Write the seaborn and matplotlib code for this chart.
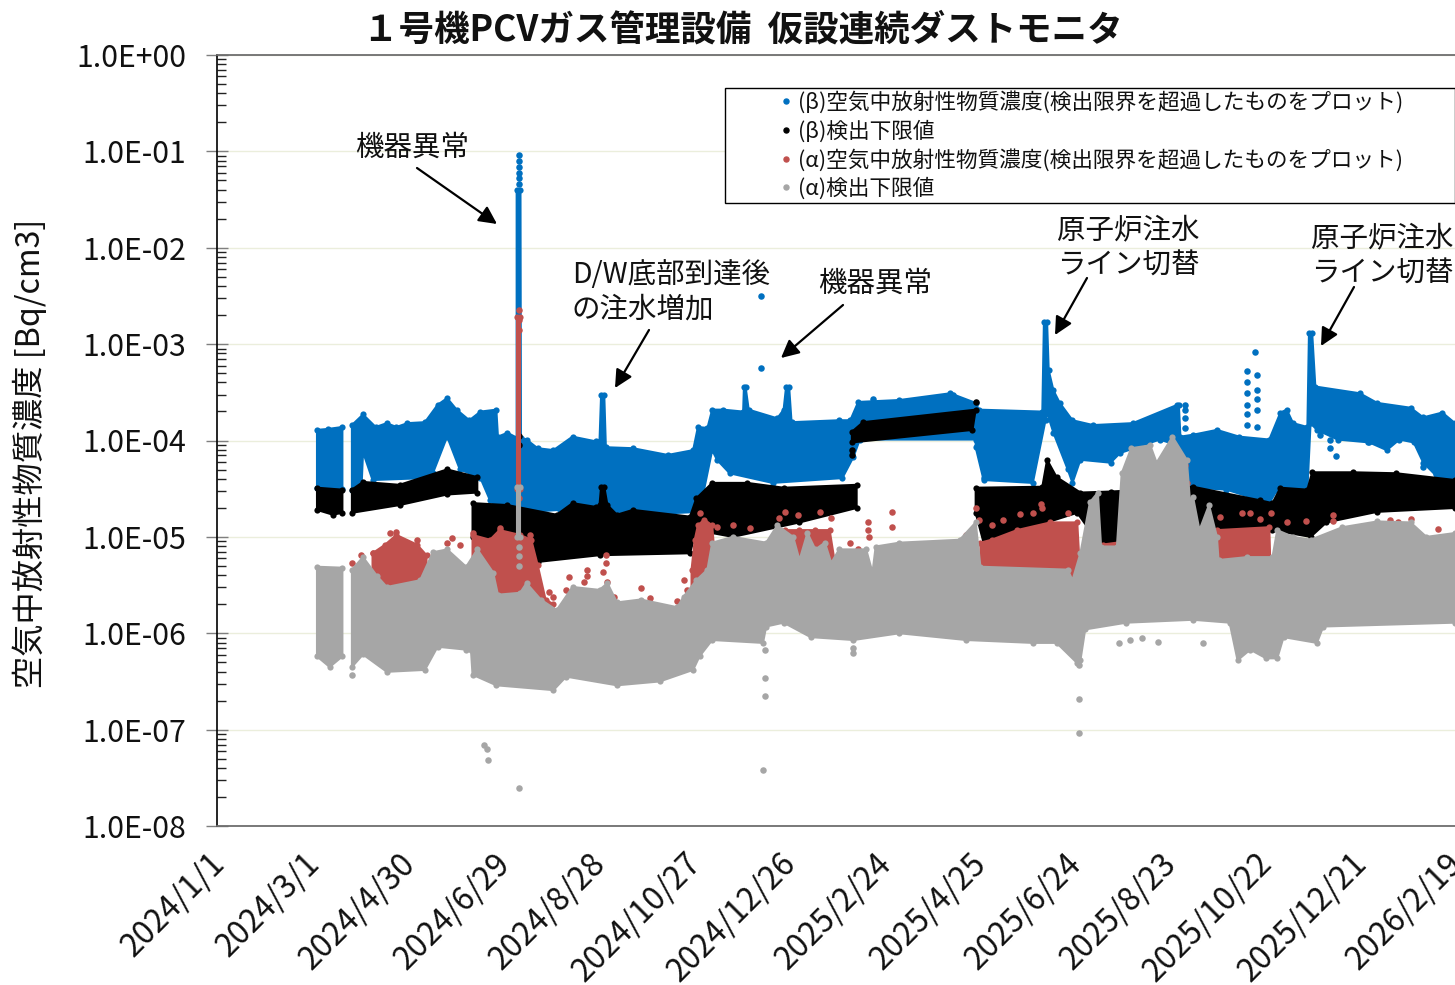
import numpy as np
import pandas as pd
import matplotlib
matplotlib.use("Agg")
import matplotlib.pyplot as plt
from matplotlib.lines import Line2D
from matplotlib.legend_handler import HandlerLine2D
from matplotlib.transforms import ScaledTranslation
import seaborn as sns

# x: days since 2024/1/1, y: concentration as -log10(Bq/cm3)
tick_labels = ["2024/1/1","2024/3/1","2024/4/30","2024/6/29","2024/8/28","2024/10/27","2024/12/26",
               "2025/2/24","2025/4/25","2025/6/24","2025/8/23","2025/10/22","2025/12/21","2026/2/19"]
tick_days = [0,60,120,180,240,300,360,420,480,540,600,660,720,780]

# ---- beta concentration envelope
beta1_top_d = [63,70,79]; beta1_top = [3.89,3.88,3.86]
beta1_bot_d = [63,79];    beta1_bot = [4.49,4.50]
beta2_top_d = [85,92,100,107,113,120,131,139,145,151,159,166,176,177,183,188.8,188.8,191.2,191.5,195,202,212,224,239,241,242,244,245,262,284,300,303,309,312,319,331.5,332,333,335,353,357,358.5,360.5,362,392,399,404,430,462,478,480,520,521,523,524,527,531,539,552,577,605,606,607,615,630,644,663,670,674,678,687,688,690,692,720,731,752,760,772,780]
beta2_top   = [3.84,3.73,3.86,3.82,3.86,3.82,3.81,3.63,3.56,3.68,3.79,3.70,3.68,3.96,3.92,3.97,1.40,1.40,3.97,3.99,4.08,4.10,3.96,4.01,4.01,3.53,3.53,4.07,4.08,4.15,4.10,3.86,3.87,3.68,3.68,3.70,3.44,3.44,3.68,3.77,3.68,3.45,3.45,3.81,3.79,3.79,3.60,3.58,3.51,3.61,3.68,3.70,2.77,2.77,3.27,3.48,3.61,3.79,3.84,3.82,3.63,3.63,3.96,3.94,3.89,3.96,3.99,3.71,3.68,3.82,3.86,2.88,2.88,3.44,3.51,3.61,3.66,3.76,3.71,3.82]
beta2_bot_d = [85,91,92,98,131,136,145,153,166,172,178,197,216,266,304,312,315,323,350,394,401,405,478,478,483,514,522,523,527,536,539,544,563,569,594,605,607,636,663,668,687,689,693,706,726,737,745,754,760,769,780]
beta2_bot   = [4.51,4.51,4.12,4.41,4.39,4.34,3.96,4.30,4.39,4.62,4.72,4.74,4.72,4.77,4.74,4.10,4.20,4.34,4.44,4.39,4.17,3.99,3.99,4.07,4.41,4.44,3.79,3.71,3.92,4.30,4.44,4.20,4.23,4.13,3.99,4.05,4.48,4.51,4.65,4.51,4.51,3.82,3.89,3.99,4.02,4.10,3.99,4.02,4.23,4.38,4.41]
beta_pts_d = [190,190,190,190,190,190,343,343,654,649,649,655,655,649,655,649,649,649,655,655,695,695,701,706,701,705,725,717,760,768,413,464,350,483,495,610,610,610,610]
beta_pts   = [1.04,1.10,1.16,1.22,1.28,1.34,2.50,3.25,3.08,3.28,3.39,3.32,3.48,3.51,3.57,3.63,3.73,3.84,3.68,3.86,3.89,3.94,3.99,3.94,4.08,4.16,4.02,3.97,4.27,4.35,3.57,3.53,4.39,4.39,4.39,3.68,3.77,3.87,3.63]

# ---- beta detection limit envelope
bl1_top_d = [63,79];     bl1_top = [4.49,4.51]
bl1_bot_d = [63,73,79];  bl1_bot = [4.72,4.77,4.75]
bl2_top_d = [85,92,115,145,164]; bl2_top = [4.51,4.43,4.46,4.30,4.38]
bl2_bot_d = [85,115,145,164];    bl2_bot = [4.75,4.67,4.56,4.54]
bl3_top_d = [161,183,214,224,239,241,242,244,246,252,262,298,302,312,334,357,403]
bl3_top   = [4.65,4.67,4.77,4.65,4.69,4.67,4.48,4.48,4.67,4.77,4.72,4.79,4.60,4.44,4.44,4.49,4.46]
bl3_bot_d = [161,197,202,241,298,302,325,367,403]
bl3_bot   = [5.00,5.06,5.26,5.19,5.17,4.93,5.00,4.85,4.70]
bl4_top_d = [400,407,478]; bl4_top = [3.91,3.81,3.68]
bl4_bot_d = [400,476];     bl4_bot = [4.02,3.89]
bl5_top_d = [478,520,523,529,544,563,615,657,665,670,687,690,716,743,780]
bl5_top   = [4.49,4.48,4.20,4.38,4.54,4.53,4.48,4.62,4.65,4.49,4.51,4.33,4.33,4.34,4.41]
bl5_bot_d = [478,483,498,523,542,557,607,665,689,699,731,780]
bl5_bot   = [4.75,5.06,4.96,4.85,4.75,5.10,4.93,4.93,5.00,4.85,4.74,4.70]
bl_pts_d = [400,400,478,190,190]; bl_pts = [4.15,4.10,3.60,3.95,4.05]

# ---- alpha concentration envelope
aA_top_d = [98,106,113,126,132]; aA_top = [5.17,5.08,4.98,5.08,5.19]
aA_bot_d = [98,132];             aA_bot = [5.50,5.50]
aB_top_d = [161,172,178,191,198,202,207,212]; aB_top = [4.98,5.03,4.93,4.98,5.03,5.29,5.65,5.70]
aB_bot_d = [161,212];            aB_bot = [5.50,5.80]
aC_top_d = [299,301,303,307,312]; aC_top = [5.34,5.03,4.88,4.82,4.88]
aC_bot_d = [299,315];            aC_bot = [5.80,5.50]
aD_top_d = [350,358,367,377,386,389]; aD_top = [5.08,4.93,4.93,4.93,4.93,5.24]
aD_bot_d = [350,389];            aD_bot = [5.39,5.45]
aE_top_d = [481,488,504,525,542,544]; aE_top = [5.06,5.03,4.93,4.85,4.85,5.45]
aE_bot_d = [481,542];            aE_bot = [5.30,5.50]
aF_top_d = [558,603,630,663,664]; aF_top = [5.08,4.98,4.93,4.90,5.50]
aF_bot_d = [558,664];            aF_bot = [5.50,5.50]
aS_top_d = [189,191]; aS_top = [2.72,2.72]
aS_bot_d = [189,191]; aS_bot = [4.50,4.50]
alpha_pts_d = [190,190,190,190,85,91,98,109,113,126,145,148,153,161,178,197,209,212,220,222,233,233,231,243,245,245,246,250,267,273,290,294,296,304,315,325,336,354,358,366,380,387,410,410,411,425,425,399,404,472,478,480,488,495,506,514,519,520,536,600,610,611,632,646,651,657,664,674,686,703,703,721,739,744,752,769]
alpha_pts   = [2.65,2.75,2.85,4.60,5.27,5.19,5.17,4.96,4.95,5.03,5.06,5.01,5.08,4.96,4.91,4.98,5.57,5.62,5.55,5.42,5.34,5.41,5.47,5.36,5.19,5.27,5.47,5.62,5.53,5.63,5.67,5.45,5.55,4.75,4.90,4.88,4.91,4.80,4.74,4.77,4.74,4.80,4.85,4.93,5.00,4.74,4.90,5.06,5.13,4.98,4.70,4.82,4.88,4.83,4.76,4.75,4.66,4.70,4.75,4.13,4.25,4.44,4.79,4.75,4.75,4.81,4.75,4.85,4.84,4.77,4.84,4.90,4.83,4.85,4.81,4.92]

# ---- alpha detection limit envelope
al1_top_d = [63,79];    al1_top = [5.31,5.32]
al1_bot_d = [63,71,79]; al1_bot = [6.24,6.35,6.24]
al2_top_d = [85,92,101,107,128,136,145,157,164,174,177,191,195,204,214,224,241,246,252,267,290,294,302,309,312,325,346,353,363,367,372,377,383,387,392,409,413,415,430,468,478,481,536,539,544,550,555,557,567,570,576,588,592,602,611,613,615,619,625,630,631,649,665,668,678,689,709,731,752,762,780]
al2_top   = [5.34,5.21,5.41,5.52,5.45,5.16,5.13,5.31,5.13,5.37,5.60,5.58,5.48,5.65,5.76,5.52,5.55,5.48,5.68,5.65,5.73,5.62,5.45,5.34,5.06,5.00,5.06,4.88,5.00,5.24,4.96,5.13,5.06,5.27,5.13,5.13,5.37,5.10,5.06,5.03,4.85,5.31,5.34,5.45,5.17,4.64,4.54,5.10,5.10,4.34,4.08,4.05,4.23,3.96,4.20,4.62,4.59,4.93,4.67,5.00,5.24,5.21,5.21,4.93,5.00,5.03,4.90,4.84,4.85,5.00,4.96]
al2_bot_d = [85,92,107,131,139,157,160,161,176,212,220,252,279,300,304,312,344,346,357,374,401,430,472,514,529,542,544,547,573,615,638,643,651,661,668,672,693,697,780]
al2_bot   = [6.35,6.22,6.40,6.38,6.14,6.17,6.17,6.43,6.54,6.59,6.45,6.54,6.50,6.38,6.24,6.07,6.10,5.93,5.89,6.04,6.07,6.00,6.07,6.10,6.10,6.31,6.28,5.96,5.89,5.86,5.89,6.28,6.17,6.26,6.26,6.04,6.10,5.93,5.89]
alS_top_d = [189,191]; alS_top = [4.48,4.48]
alS_bot_d = [189,191]; alS_bot = [5.00,5.00]
al_pts_d = [190,190,190,168,170,171,190,345,345,345,344,401,401,543,543,543,568,575,583,593,621,85]
al_pts   = [5.10,5.20,5.30,7.16,7.20,7.32,7.61,6.17,6.46,6.65,7.42,6.15,6.21,6.33,6.68,7.04,6.10,6.07,6.05,6.09,6.10,6.43]

names = ["(β)空気中放射性物質濃度(検出限界を超過したものをプロット)", "(β)検出下限値",
         "(α)空気中放射性物質濃度(検出限界を超過したものをプロット)", "(α)検出下限値"]
BLUE, BLACK, RED, GREY = "#0070C0", "#000000", "#C0504D", "#A6A6A6"

sns.set_theme(style="white")
plt.rcParams["font.family"] = ["Noto Sans CJK JP", "DejaVu Sans"]

W, H = 1455, 985
L, R, T, B = 217, 1455, 55, 826
fig = plt.figure(figsize=(W/100, H/100), dpi=100)
ax = fig.add_axes([L/W, 1-B/H, (R-L)/W, (B-T)/H])
ax.set_yscale("log")
ax.set_xlim(0, 780)
ax.set_ylim(1e-8, 1)

def val(a):
    return 10.0 ** (-np.asarray(a, dtype=float))

def band(top_d, top, bot_d, bot, color, z):
    xs = np.r_[top_d, bot_d[::-1]]
    ys = np.r_[val(top), val(bot[::-1])]
    ax.fill(xs, ys, color=color, lw=1.5, zorder=z, joinstyle="round")
    sns.scatterplot(x=np.r_[top_d, bot_d], y=np.r_[val(top), val(bot)], color=color,
                    s=20, linewidth=0, ax=ax, zorder=z, legend=False)

def dots(d, v, color, z):
    sns.scatterplot(x=d, y=val(v), color=color, s=22, linewidth=0, ax=ax, zorder=z, legend=False)

band(beta1_top_d, beta1_top, beta1_bot_d, beta1_bot, BLUE, 3)
band(beta2_top_d, beta2_top, beta2_bot_d, beta2_bot, BLUE, 3)
dots(beta_pts_d, beta_pts, BLUE, 3)
for s in [(bl1_top_d,bl1_top,bl1_bot_d,bl1_bot),(bl2_top_d,bl2_top,bl2_bot_d,bl2_bot),
          (bl3_top_d,bl3_top,bl3_bot_d,bl3_bot),(bl4_top_d,bl4_top,bl4_bot_d,bl4_bot),
          (bl5_top_d,bl5_top,bl5_bot_d,bl5_bot)]:
    band(*s, BLACK, 4)
dots(bl_pts_d, bl_pts, BLACK, 4)
for s in [(aA_top_d,aA_top,aA_bot_d,aA_bot),(aB_top_d,aB_top,aB_bot_d,aB_bot),
          (aC_top_d,aC_top,aC_bot_d,aC_bot),(aD_top_d,aD_top,aD_bot_d,aD_bot),
          (aE_top_d,aE_top,aE_bot_d,aE_bot),(aF_top_d,aF_top,aF_bot_d,aF_bot),
          (aS_top_d,aS_top,aS_bot_d,aS_bot)]:
    band(*s, RED, 5)
dots(alpha_pts_d, alpha_pts, RED, 5)
band(al1_top_d, al1_top, al1_bot_d, al1_bot, GREY, 6)
band(al2_top_d, al2_top, al2_bot_d, al2_bot, GREY, 6)
band(alS_top_d, alS_top, alS_bot_d, alS_bot, GREY, 6)
dots(al_pts_d, al_pts, GREY, 6)

# axes
ax.set_xlim(0, 780)
ax.set_ylim(1e-8, 1)
ax.set_xlabel(""); ax.set_ylabel("")
ax.set_yticks([10.0**-i for i in range(9)])
ax.set_yticklabels([f"1.0E{'+' if i == 0 else '-'}{i:02d}" for i in range(9)], fontsize=21.8)
ax.yaxis.set_minor_locator(matplotlib.ticker.LogLocator(base=10, subs=np.arange(2, 10), numticks=12))
ax.yaxis.set_minor_formatter(matplotlib.ticker.NullFormatter())
ax.tick_params(axis="y", which="major", direction="inout", length=16, width=1, color="#7F7F7F", pad=14, labelcolor="#111111", left=True)
ax.tick_params(axis="y", which="minor", direction="in", length=6.5, width=1, color="#222222", left=True)
ax.set_xticks(tick_days)
ax.set_xticklabels(tick_labels, rotation=45, ha="right", rotation_mode="anchor", fontsize=23, color="#111111")
ax.tick_params(axis="x", length=0, pad=15)
shift = ScaledTranslation(-9/100, 0, fig.dpi_scale_trans)
for lab in ax.get_xticklabels():
    lab.set_transform(lab.get_transform() + shift)
ax.grid(axis="y", which="major", color="#EBEEDC", lw=1)
ax.set_axisbelow(True)
ax.spines["right"].set_visible(False)
ax.spines["left"].set_color("black"); ax.spines["left"].set_linewidth(1.2)
for sp in ["top", "bottom"]:
    ax.spines[sp].set_color("#6E6E6E"); ax.spines[sp].set_linewidth(1.3)

fig.text(743/W, 1-30/H, "１号機PCVガス管理設備  仮設連続ダストモニタ", fontsize=25.6, fontweight="bold",
         ha="center", va="center", color="#111111")
fig.text(30/W, 1-453/H, "空気中放射性物質濃度 [Bq/cm3]", fontsize=23.2, rotation=90, ha="center", va="center", color="#111111")

# legend
handles = [Line2D([], [], ls="", marker="o", ms=3.6, mfc=c, mec=c) for c in (BLUE, BLACK, RED, GREY)]
leg = ax.legend(handles, names, loc="upper left",
                bbox_to_anchor=((725-L)/(R-L), 1-(204-T)/(B-T), (R-725)/(R-L), (204-88)/(B-T)),
                mode="expand", borderaxespad=0, frameon=True, fancybox=False, edgecolor="black",
                framealpha=1, fontsize=15.6, borderpad=0.15, labelspacing=0.28, handlelength=3.15,
                handletextpad=0.05, handler_map={Line2D: HandlerLine2D(numpoints=1, xpad=2.2)})
leg.get_frame().set_linewidth(1.0)
leg.set_zorder(8)
for t in leg.get_texts():
    t.set_color("#111111")

def px(x, y):
    return ((x-L)/(R-L), 1-(y-T)/(B-T))

notes = [
    ("機器異常", 355, 148, (417,168), (497,224)),
    ("D/W底部到達後\nの注水増加", 572, 292, (649,330), (615,388)),
    ("機器異常", 818, 284, (843,305), (781,358)),
    ("原子炉注水\nライン切替", 1057, 248, (1087,278), (1055,335)),
    ("原子炉注水\nライン切替", 1311, 256, (1354,287), (1321,346)),
]
for txt, x, y, a, b in notes:
    ax.text(*px(x, y), txt, transform=ax.transAxes, fontsize=20.5, ha="left", va="center",
            linespacing=1.2, color="#111111", zorder=9)
    ax.annotate("", xy=px(*b), xytext=px(*a), xycoords="axes fraction", textcoords="axes fraction", zorder=9,
                arrowprops=dict(arrowstyle="-|>,head_length=0.9,head_width=0.45", color="black", lw=1.6, shrinkA=0, shrinkB=0))

fig.savefig("out.png", dpi=100, facecolor="white")
